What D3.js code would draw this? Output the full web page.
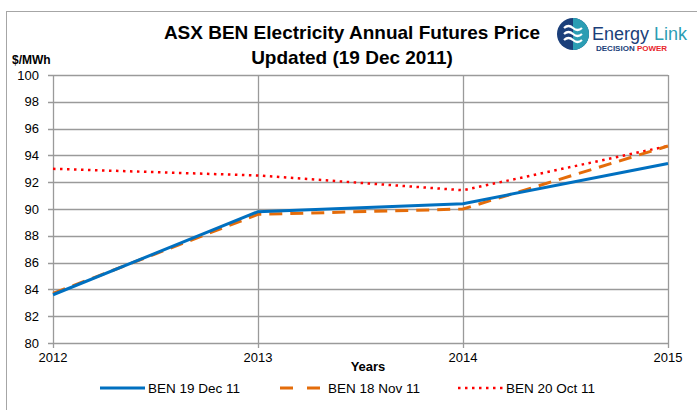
<!DOCTYPE html>
<html>
<head>
<meta charset="utf-8">
<script src="https://cdn.jsdelivr.net/npm/d3@7"></script>
<style>
  body { margin: 0; background: #fff; }
  svg { display: block; font-family: "Liberation Sans", Arial, sans-serif; }
</style>
</head>
<body>
<svg id="chart"></svg>
<script>
var years = [2012, 2013, 2014, 2015];
var yTicks = [80, 82, 84, 86, 88, 90, 92, 94, 96, 98, 100];
var seriesNames = ["BEN 19 Dec 11", "BEN 18 Nov 11", "BEN 20 Oct 11"];
var dec19 = [83.6, 89.8, 90.4, 93.4];
var nov18 = [83.7, 89.6, 90.0, 94.7];
var oct20 = [93.0, 92.5, 91.4, 94.7];

var w = 697, h = 410;
var svg = d3.select('#chart').attr("width", w).attr("height", h);

// outer frame
svg.append("rect").attr("x", 6.5).attr("y", 11.5).attr("width", 700).attr("height", 410)
  .attr("fill", "none").attr("stroke", "#a6a6a6").attr("stroke-width", 1);

var x = d3.scaleLinear().domain([2012, 2015]).range([53, 668]);
var y = d3.scaleLinear().domain([80, 100]).range([343, 75]);

// gridlines
svg.append("g").selectAll("line.h").data(yTicks).enter().append("line")
  .attr("x1", 48).attr("x2", x(2015))
  .attr("y1", function(d) { return Math.round(y(d)) + 0.5; })
  .attr("y2", function(d) { return Math.round(y(d)) + 0.5; })
  .attr("stroke", "#9a9a9a").attr("stroke-width", 1.3);

svg.append("g").selectAll("line.v").data(years).enter().append("line")
  .attr("x1", function(d) { return Math.round(x(d)) + 0.5; })
  .attr("x2", function(d) { return Math.round(x(d)) + 0.5; })
  .attr("y1", y(100)).attr("y2", y(80) + 5)
  .attr("stroke", "#9a9a9a").attr("stroke-width", 1.3);

// y tick labels
svg.append("g").selectAll("text").data(yTicks).enter().append("text")
  .attr("x", 39).attr("y", function(d) { return y(d) + 4.5; })
  .attr("text-anchor", "end").attr("font-size", 13).attr("fill", "#000")
  .text(function(d) { return d; });

// x tick labels
svg.append("g").selectAll("text").data(years).enter().append("text")
  .attr("x", function(d) { return x(d); }).attr("y", 362)
  .attr("text-anchor", "middle").attr("font-size", 13).attr("fill", "#000")
  .text(function(d) { return d; });

svg.append("text").attr("x", 368).attr("y", 371).attr("text-anchor", "middle")
  .attr("font-size", 13).attr("font-weight", "bold").text("Years");

svg.append("text").attr("x", 12).attr("y", 64)
  .attr("font-size", 12).attr("font-weight", "bold").text("$/MWh");

// title
svg.append("text").attr("x", 352).attr("y", 39).attr("text-anchor", "middle")
  .attr("font-size", 19).attr("font-weight", "bold").text("ASX BEN Electricity Annual Futures Price");
svg.append("text").attr("x", 352).attr("y", 64).attr("text-anchor", "middle")
  .attr("font-size", 19).attr("font-weight", "bold").text("Updated (19 Dec 2011)");

// series
var styles = [
  { data: dec19, color: "#0070C0", width: 3, dash: null },
  { data: nov18, color: "#E46C0A", width: 3, dash: "13,8" },
  { data: oct20, color: "#FF0000", width: 2.5, dash: "2.5,4.5" }
];
var line = d3.line()
  .x(function(d, i) { return x(years[i]); })
  .y(function(d) { return y(d); });

// draw back to front so blue stays on top
[2, 1, 0].forEach(function(k) {
  var s = styles[k];
  svg.append("path").attr("d", line(s.data))
    .attr("fill", "none").attr("stroke", s.color).attr("stroke-width", s.width)
    .attr("stroke-dasharray", s.dash);
});

// legend
var legendX = [100, 280, 458];
var leg = svg.append("g").selectAll("g").data(seriesNames).enter().append("g")
  .attr("transform", function(d, i) { return "translate(" + legendX[i] + ",388)"; });
leg.append("line").attr("x1", 0).attr("x2", 45).attr("y1", 0).attr("y2", 0)
  .attr("stroke", function(d, i) { return styles[i].color; })
  .attr("stroke-width", function(d, i) { return styles[i].width; })
  .attr("stroke-dasharray", function(d, i) { return i == 1 ? "13,14" : styles[i].dash; });
leg.append("text").attr("x", 48).attr("y", 4.5).attr("font-size", 13.5)
  .text(function(d) { return d; });

// logo
var logo = svg.append("g").attr("transform", "translate(573,34)");
logo.append("circle").attr("r", 16).attr("fill", "#1b3f7a");
logo.append("path").attr("d", "M0,-16 A16,16 0 0,1 0,16 Z").attr("fill", "#2b9db3");
[-6, 0, 6].forEach(function(dy) {
  logo.append("path")
    .attr("d", "M-9," + dy + " q4.5,-4 9,0 t9,0")
    .attr("fill", "none").attr("stroke", "#fff").attr("stroke-width", 2.2);
});
svg.append("text").attr("x", 592).attr("y", 40).attr("font-size", 18)
  .attr("fill", "#1b3f7a").text("Energy")
  .append("tspan").attr("fill", "#2b9db3").text(" Link");
svg.append("text").attr("x", 596).attr("y", 51).attr("font-size", 8).attr("font-weight", "bold")
  .attr("fill", "#1b3f7a").text("DECISION ")
  .append("tspan").attr("fill", "#e8262d").text("POWER");
</script>
</body>
</html>
